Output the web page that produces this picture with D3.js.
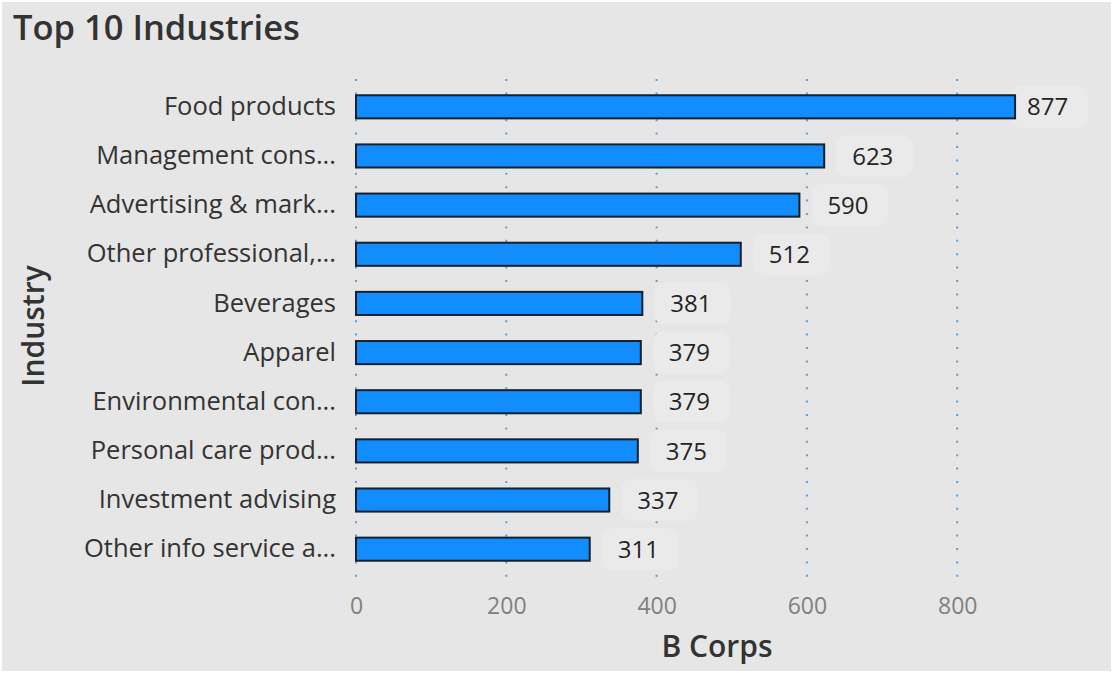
<!DOCTYPE html>
<html>
<head>
<meta charset="utf-8">
<script src="https://cdn.jsdelivr.net/npm/d3@7"></script>
<style>
  html, body { margin: 0; padding: 0; background: #ffffff; }
  svg { display: block; }
</style>
</head>
<body>
<svg id="chart" width="1113" height="673"></svg>
<script>
// Top 10 industries by number of B Corps
const industries = [
  "Food products",
  "Management cons...",
  "Advertising & mark...",
  "Other professional,...",
  "Beverages",
  "Apparel",
  "Environmental con...",
  "Personal care prod...",
  "Investment advising",
  "Other info service a..."
];
const bCorps = [877, 623, 590, 512, 381, 379, 379, 375, 337, 311];
const xTicks = [0, 200, 400, 600, 800];

const W = 1113, H = 673;
const svg = d3.select("#chart");

// panel background
svg.append("rect")
  .attr("x", 2).attr("y", 2)
  .attr("width", W - 4).attr("height", H - 4)
  .attr("fill", "#e6e6e6");

const x = d3.scaleLinear().domain([0, 850]).range([356, 356 + 850 * 0.7515]);
const y = d3.scaleBand().domain(industries).range([81.5, 574.5]).paddingInner(0.53).paddingOuter(0.28);

const font = "'Open Sans', 'Noto Sans', sans-serif";

// title
svg.append("text")
  .attr("x", 13).attr("y", 40)
  .attr("font-family", font)
  .attr("font-size", 34.5)
  .attr("font-weight", 600)
  .attr("fill", "#333333")
  .text("Top 10 Industries");

// dotted gridlines
const grid = svg.append("g");
xTicks.forEach(t => {
  grid.append("line")
    .attr("x1", x(t)).attr("x2", x(t))
    .attr("y1", 79).attr("y2", 582)
    .attr("stroke", "#5b9ee0")
    .attr("stroke-width", 2)
    .attr("stroke-dasharray", "2,11.4");
});

// x axis
const xAxis = d3.axisBottom(x).tickValues(xTicks).tickSize(0).tickPadding(0);
const gx = svg.append("g").attr("transform", "translate(0,614)").call(xAxis);
gx.select(".domain").remove();
gx.selectAll("text")
  .attr("font-family", font)
  .attr("font-size", 23)
  .attr("fill", "#808080")
  .attr("dy", 0);

// y axis category labels
const yAxis = d3.axisLeft(y).tickSize(0).tickPadding(20);
const gy = svg.append("g").attr("transform", "translate(356,0)").call(yAxis);
gy.select(".domain").remove();
gy.selectAll("text")
  .attr("font-family", font)
  .attr("font-size", 25.5)
  .attr("fill", "#333333");

// axis titles
svg.append("text")
  .attr("x", 717).attr("y", 657)
  .attr("text-anchor", "middle")
  .attr("font-family", font)
  .attr("font-size", 30)
  .attr("font-weight", 600)
  .attr("fill", "#333333")
  .text("B Corps");

svg.append("text")
  .attr("transform", "translate(44,326) rotate(-90)")
  .attr("text-anchor", "middle")
  .attr("font-family", font)
  .attr("font-size", 30)
  .attr("font-weight", 600)
  .attr("fill", "#333333")
  .text("Industry");

// value label backgrounds sit under the bars; kept inside the plot's right edge
const boxW = 77, boxRight = 1088;
const boxX = i => Math.min(x(bCorps[i]) + 12, boxRight - boxW);
const cy = d => y(d) + y.bandwidth() / 2;

svg.append("g").selectAll("rect")
  .data(industries)
  .join("rect")
  .attr("x", (d, i) => boxX(i))
  .attr("y", d => cy(d) - 21)
  .attr("width", boxW).attr("height", 42)
  .attr("rx", 10)
  .attr("fill", "#eaeaea");

// bars
svg.append("g").selectAll("rect")
  .data(industries)
  .join("rect")
  .attr("x", x(0))
  .attr("y", d => y(d))
  .attr("width", (d, i) => x(bCorps[i]) - x(0))
  .attr("height", y.bandwidth())
  .attr("fill", "#118dff")
  .attr("stroke", "#15202b")
  .attr("stroke-width", 2);

// value labels
svg.append("g").selectAll("text")
  .data(industries)
  .join("text")
  .attr("x", (d, i) => boxX(i) + 16)
  .attr("y", d => cy(d))
  .attr("dy", "0.36em")
  .attr("font-family", font)
  .attr("font-size", 24)
  .attr("fill", "#252423")
  .text((d, i) => bCorps[i]);
</script>
</body>
</html>
